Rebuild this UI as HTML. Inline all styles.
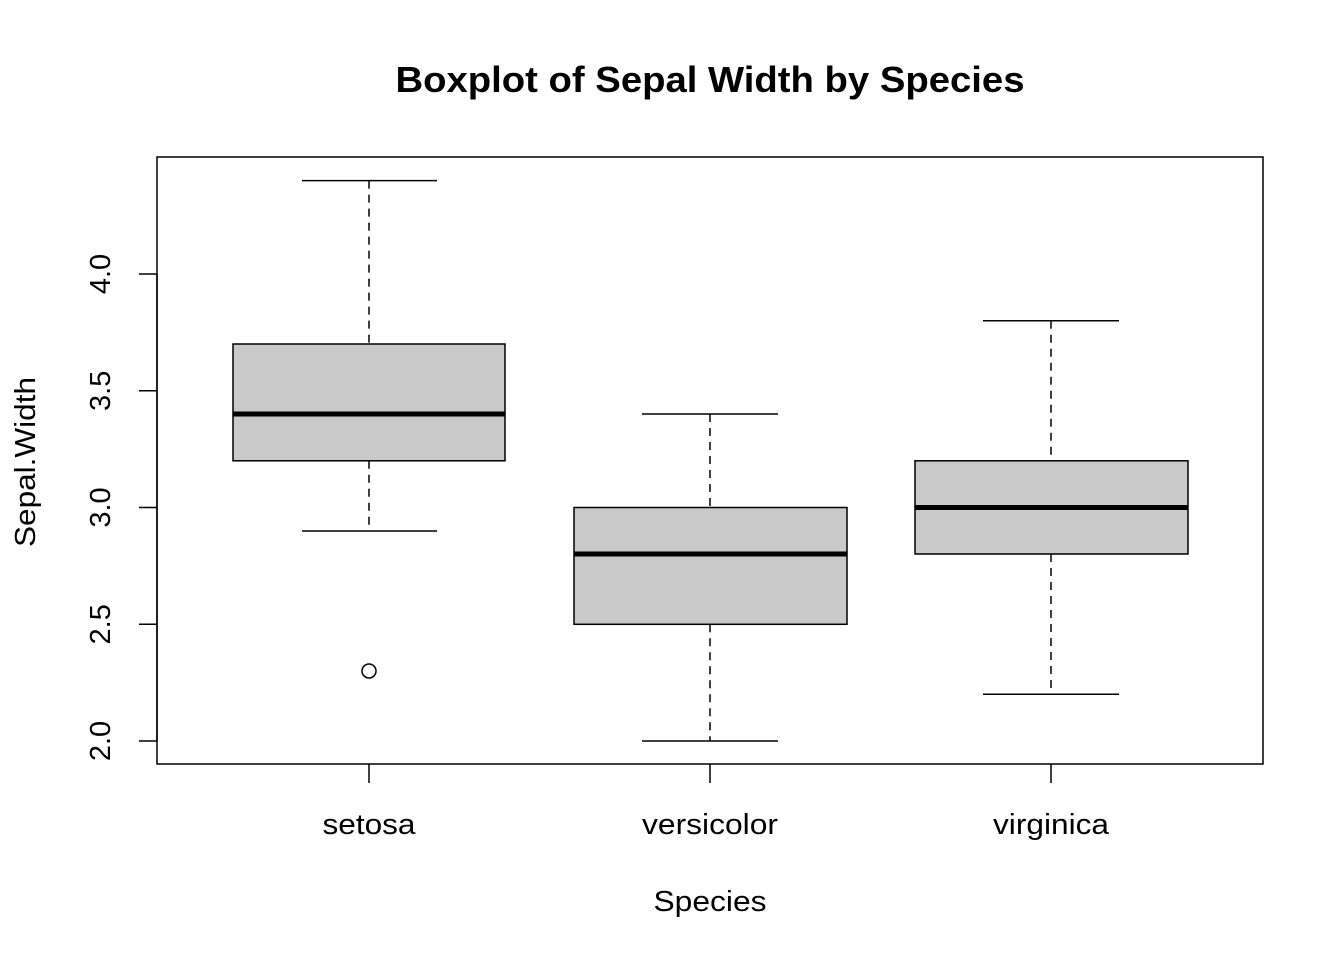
<!DOCTYPE html>
<html><head><style>body{margin:0;background:#fff}svg{display:block}text{font-family:"Liberation Sans",Arial,sans-serif}</style></head>
<body>
<svg width="1344" height="960" viewBox="0 0 1344 960" xmlns="http://www.w3.org/2000/svg">
<rect width="1344" height="960" fill="#fff"/>
<text x="710" y="92" text-anchor="middle" font-size="36" font-weight="bold" textLength="629" lengthAdjust="spacingAndGlyphs">Boxplot of Sepal Width by Species</text>
<rect x="157" y="157" width="1106" height="607" fill="none" stroke="#000" stroke-width="1.5"/>
<g stroke="#000" stroke-width="1.5" fill="none">
<line x1="369" y1="180.6" x2="369" y2="344" stroke-dasharray="8,6"/>
<line x1="369" y1="460.8" x2="369" y2="531" stroke-dasharray="8,6"/>
<line x1="302" y1="180.6" x2="437" y2="180.6"/>
<line x1="302" y1="531" x2="437" y2="531"/>
<rect x="233" y="344" width="272" height="116.8" fill="#c9c9c9"/>
<line x1="233" y1="414" x2="505" y2="414" stroke-width="5"/>
<circle cx="369" cy="671" r="7"/>
<line x1="710" y1="414" x2="710" y2="507.5" stroke-dasharray="8,6"/>
<line x1="710" y1="624.3" x2="710" y2="741" stroke-dasharray="8,6"/>
<line x1="642" y1="414" x2="778" y2="414"/>
<line x1="642" y1="741" x2="778" y2="741"/>
<rect x="574" y="507.5" width="273" height="116.8" fill="#c9c9c9"/>
<line x1="574" y1="554" x2="847" y2="554" stroke-width="5"/>
<line x1="1051" y1="320.8" x2="1051" y2="460.8" stroke-dasharray="8,6"/>
<line x1="1051" y1="554" x2="1051" y2="694.3" stroke-dasharray="8,6"/>
<line x1="983" y1="320.8" x2="1119" y2="320.8"/>
<line x1="983" y1="694.3" x2="1119" y2="694.3"/>
<rect x="915" y="460.8" width="273" height="93.2" fill="#c9c9c9"/>
<line x1="915" y1="507.5" x2="1188" y2="507.5" stroke-width="5"/>
<line x1="157" y1="274" x2="157" y2="741"/>
<line x1="157" y1="741" x2="139" y2="741"/>
<line x1="157" y1="624.3" x2="139" y2="624.3"/>
<line x1="157" y1="507.5" x2="139" y2="507.5"/>
<line x1="157" y1="390.8" x2="139" y2="390.8"/>
<line x1="157" y1="274" x2="139" y2="274"/>
<line x1="369" y1="764" x2="369" y2="783"/>
<line x1="710" y1="764" x2="710" y2="783"/>
<line x1="1051" y1="764" x2="1051" y2="783"/>
</g>
<g font-size="29" text-anchor="middle">
<text transform="translate(110,741) rotate(-90)">2.0</text>
<text transform="translate(110,624.3) rotate(-90)">2.5</text>
<text transform="translate(110,507.5) rotate(-90)">3.0</text>
<text transform="translate(110,390.8) rotate(-90)">3.5</text>
<text transform="translate(110,274) rotate(-90)">4.0</text>
<text x="369" y="834" textLength="93" lengthAdjust="spacingAndGlyphs">setosa</text>
<text x="710" y="834" textLength="136" lengthAdjust="spacingAndGlyphs">versicolor</text>
<text x="1051" y="834" textLength="116" lengthAdjust="spacingAndGlyphs">virginica</text>
<text x="710" y="911" textLength="113" lengthAdjust="spacingAndGlyphs">Species</text>
<text transform="translate(35,462) rotate(-90)" textLength="170" lengthAdjust="spacingAndGlyphs">Sepal.Width</text>
</g>
</svg>
</body></html>
